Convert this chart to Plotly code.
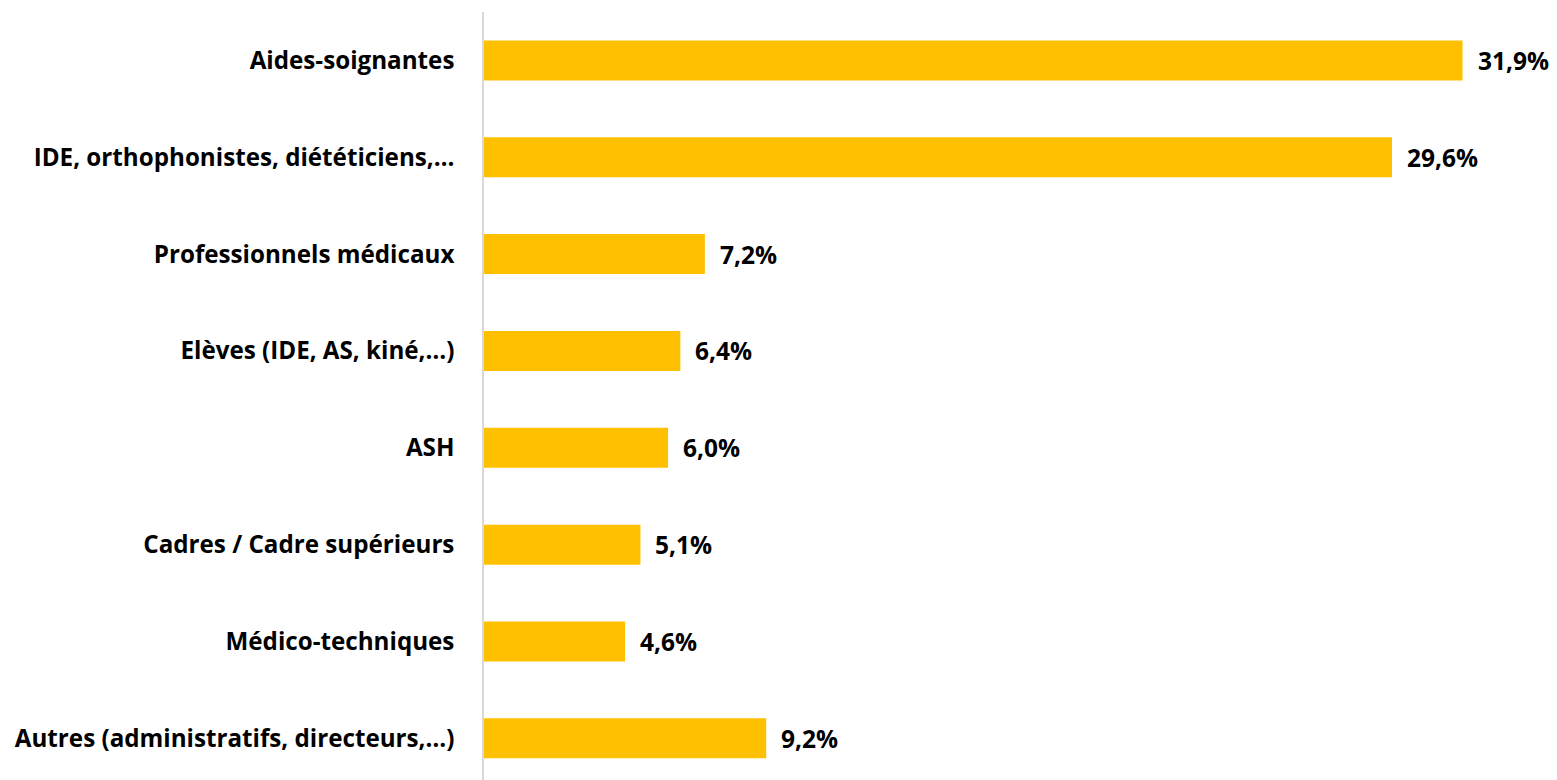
import plotly.graph_objects as go

categories = [
    "Aides-soignantes",
    "IDE, orthophonistes, diététiciens,…",
    "Professionnels médicaux",
    "Elèves (IDE, AS, kiné,…)",
    "ASH",
    "Cadres / Cadre supérieurs",
    "Médico-techniques",
    "Autres (administratifs, directeurs,…)",
]
values = [31.9, 29.6, 7.2, 6.4, 6.0, 5.1, 4.6, 9.2]

FONT = "Open Sans"

fig = go.Figure(
    go.Bar(
        x=values,
        y=categories,
        orientation="h",
        marker=dict(color="#FFC000", line=dict(width=0)),
        width=0.413,
        hoverinfo="skip",
    )
)

for c, v in zip(categories, values):
    fig.add_annotation(
        x=v, y=c, xref="x", yref="y",
        text=f"{v:.1f}%".replace(".", ","),
        showarrow=False, xanchor="left", yanchor="middle",
        xshift=13,
        font=dict(family=FONT, size=24.5, color="#000000", weight="bold"),
    )

fig.update_layout(
    width=1557,
    height=780,
    margin=dict(l=484, r=30, t=12, b=0),
    paper_bgcolor="white",
    plot_bgcolor="white",
    showlegend=False,
    separators=",.",
    xaxis=dict(range=[0, 34], visible=False, showgrid=False, zeroline=False),
    yaxis=dict(
        type="category",
        range=[7.43, -0.5],
        showline=True,
        linecolor="#D9D9D9",
        linewidth=1.5,
        showgrid=False,
        zeroline=False,
        ticks="",
        ticklabelstandoff=23,
        tickfont=dict(family=FONT, size=24.2, color="#000000", weight="bold"),
    ),
)

fig.write_html("out.html")
